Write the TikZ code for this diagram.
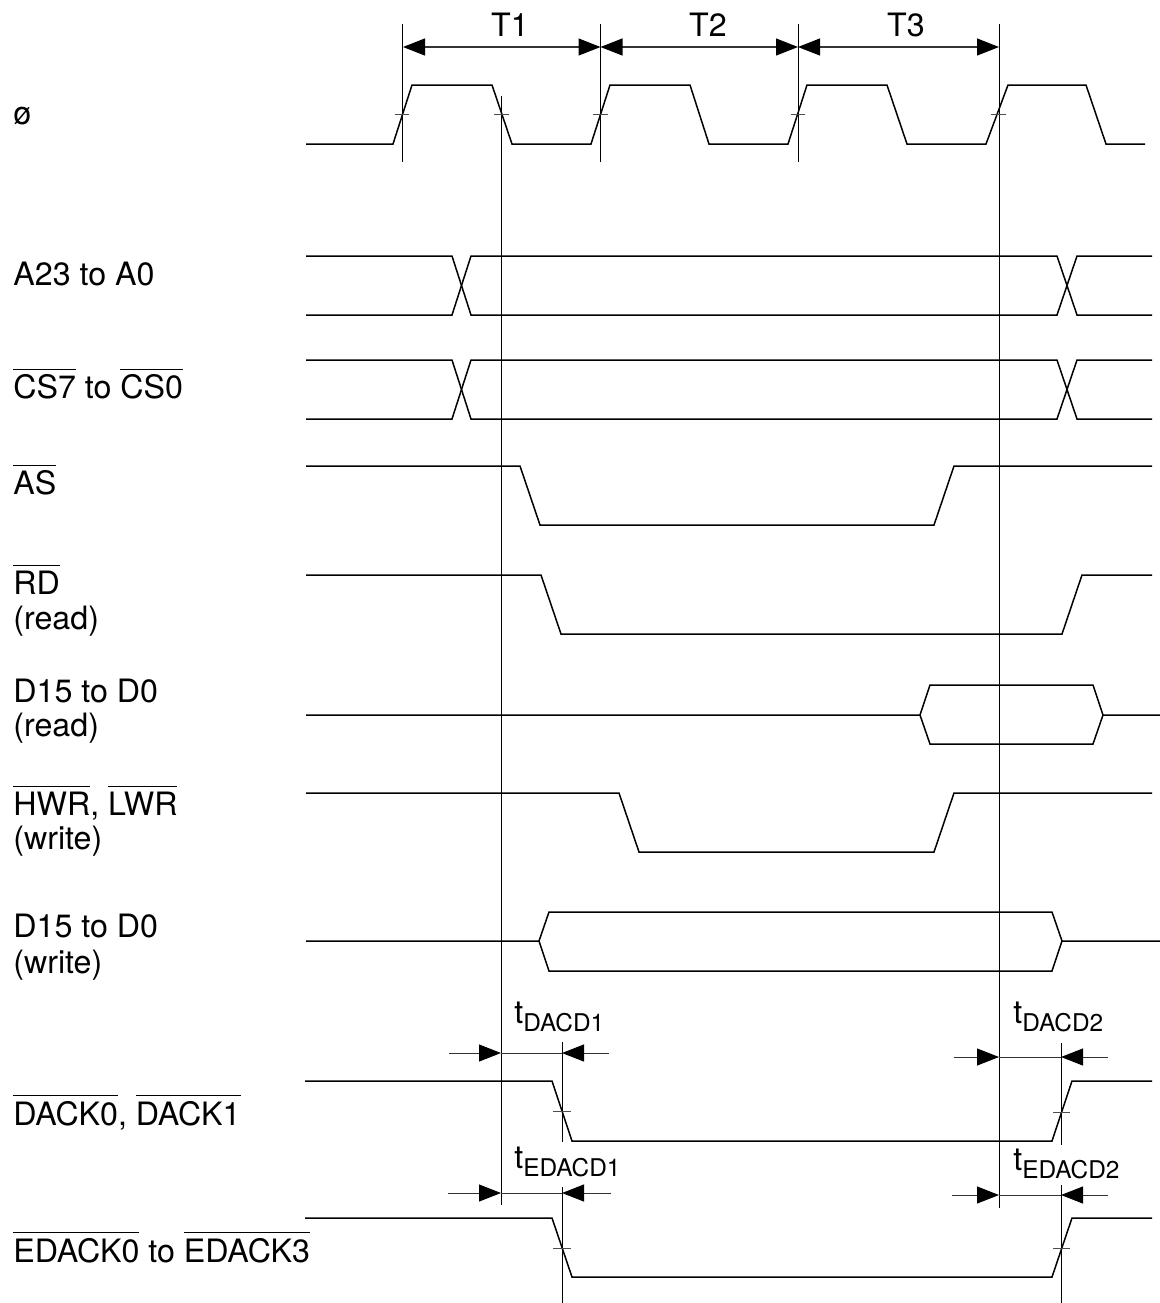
\documentclass[tikz,border=0pt]{standalone}
\usepackage{fontspec}
\setmainfont{TeX Gyre Heros}
\usetikzlibrary{arrows.meta}
\newcommand{\tsub}[1]{t\raisebox{-4pt}{\fontsize{12.2}{12}\selectfont #1}}
\newcommand{\barsig}[1]{\leavevmode\vbox{\hrule height 0.5pt \kern 2.4pt \hbox{#1}}}
\begin{document}
\begin{tikzpicture}[x=0.5pt,y=-0.5pt]
\tikzstyle{every node}=[font=\fontsize{16.1}{18}\selectfont,inner sep=0pt]
\tikzstyle{signame}=[anchor=base west,align=left]
\tikzstyle{delay}=[anchor=base west]
\tikzstyle{period}=[anchor=base]
\tikzstyle{wave}=[line width=0.75pt,line join=miter]
\tikzstyle{cursor}=[line width=0.5pt]
\tikzstyle{tick}=[line width=0.4pt,black!70]
\tikzstyle{dimline}=[line width=0.5pt,black!80]
\tikzstyle{dimtip}=[line width=0.6pt,black!80,{Triangle[length=11pt,width=8.5pt,black]}-{Triangle[length=11pt,width=8.5pt,black]}]
\tikzstyle{dimin}=[line width=0.5pt,black!80,-{Triangle[length=11pt,width=8.5pt,black]}]
\useasboundingbox (0,0) rectangle (1160,1303);
% signal names
\node[signame] (phi) at (13,124) {ø};
\node[signame] (addr) at (13,285.5) {A23 to A0};
\node[signame] (cs) at (13,398.5) {\barsig{CS7} to \barsig{CS0}};
\node[signame] (as) at (13,494.5) {\barsig{AS}};
\node[signame] (rd) at (13,594.5) {\barsig{RD}};
\node[signame] (rdnote) at (13,629) {(read)};
\node[signame] (drd) at (13,702) {D15 to D0};
\node[signame] (drdnote) at (13,736.5) {(read)};
\node[signame] (wr) at (13,815) {\barsig{HWR}, \barsig{LWR}};
\node[signame] (wrnote) at (13,849) {(write)};
\node[signame] (dwr) at (13,937.5) {D15 to D0};
\node[signame] (dwrnote) at (13,973) {(write)};
\node[signame] (dack) at (13,1125) {\barsig{DACK0}, \barsig{DACK1}};
\node[signame] (edack) at (13,1262) {\barsig{EDACK0} to \barsig{EDACK3}};
% waveforms
\draw[wave] (306,144) -- (393,144) -- (412,85) -- (492,85) -- (512,144) -- (591,144) -- (610,85) -- (690,85) -- (709,144) -- (788,144) -- (807,85) -- (887,85) -- (907,144) -- (986,144) -- (1008,85) -- (1086,85) -- (1106,144) -- (1145,144);
\draw[wave] (306,256) -- (452,256) -- (471,315) -- (1057,315) -- (1077,256) -- (1152,256);
\draw[wave] (306,315) -- (452,315) -- (471,256) -- (1057,256) -- (1077,315) -- (1152,315);
\draw[wave] (306,360) -- (452,360) -- (471,419) -- (1057,419) -- (1077,360) -- (1152,360);
\draw[wave] (306,419) -- (452,419) -- (471,360) -- (1057,360) -- (1077,419) -- (1152,419);
\draw[wave] (306,466) -- (520,466) -- (540,525) -- (934,525) -- (954,466) -- (1152,466);
\draw[wave] (306,575) -- (541,575) -- (561,634) -- (1062,634) -- (1082,575) -- (1152,575);
\draw[wave] (306,715) -- (920,715) -- (930,685) -- (1093,685) -- (1103,715) -- (1160,715);
\draw[wave] (920,715) -- (930,744) -- (1093,744) -- (1103,715);
\draw[wave] (306,793) -- (619,793) -- (639,852) -- (934,852) -- (954,793) -- (1152,793);
\draw[wave] (306,941) -- (539,941) -- (549,912) -- (1052,912) -- (1062,941) -- (1160,941);
\draw[wave] (539,941) -- (549,971) -- (1052,971) -- (1062,941);
\draw[wave] (305,1081) -- (552,1081) -- (572,1141) -- (1052,1141) -- (1072,1081) -- (1152,1081);
\draw[wave] (305,1218) -- (552,1218) -- (572,1277) -- (1052,1277) -- (1072,1218) -- (1152,1218);
% vertical cursors
\draw[cursor] (402,24) -- (402,162);
\draw[cursor] (600.5,24) -- (600.5,162);
\draw[cursor] (798,24) -- (798,162);
\draw[cursor] (999,24) -- (999,1208);
\draw[cursor] (501,96) -- (501,1205);
\draw[cursor] (562,1042) -- (562,1142);
\draw[cursor] (1061,1043) -- (1061,1145);
\draw[cursor] (562,1187) -- (562,1303);
\draw[cursor] (1061,1185) -- (1061,1303);
% crossing ticks
\draw[tick] (395,114) -- (409,114);
\draw[tick] (494,114) -- (509,114);
\draw[tick] (593,114) -- (608,114);
\draw[tick] (791,114) -- (805,114);
\draw[tick] (991,114) -- (1006,114);
\draw[tick] (553,1111) -- (571,1111);
\draw[tick] (1053,1112) -- (1070,1112);
\draw[tick] (553,1248) -- (571,1248);
\draw[tick] (1053,1248) -- (1070,1248);
% periods
\coordinate (ta) at (403,47);
\coordinate (tb) at (600.5,47);
\coordinate (tc) at (798,47);
\coordinate (td) at (999,47);
\draw[dimtip] (ta) -- (tb);
\draw[dimtip] (tb) -- (tc);
\draw[dimtip] (tc) -- (td);
\node[period] (t1) at (510,36) {T1};
\node[period] (t2) at (708,36) {T2};
\node[period] (t3) at (906,36) {T3};
% delays
\coordinate (daa) at (449,1053);
\coordinate (dab) at (501,1053);
\coordinate (dac) at (562,1053);
\coordinate (dad) at (609,1053);
\draw[dimin] (daa) -- (dab);
\draw[dimline] (dab) -- (dac);
\draw[dimin] (dad) -- (dac);
\coordinate (dba) at (954,1057);
\coordinate (dbb) at (999,1057);
\coordinate (dbc) at (1061,1057);
\coordinate (dbd) at (1108,1057);
\draw[dimin] (dba) -- (dbb);
\draw[dimline] (dbb) -- (dbc);
\draw[dimin] (dbd) -- (dbc);
\coordinate (eaa) at (448,1193);
\coordinate (eab) at (501,1193);
\coordinate (eac) at (562,1193);
\coordinate (ead) at (611,1193);
\draw[dimin] (eaa) -- (eab);
\draw[dimline] (eab) -- (eac);
\draw[dimin] (ead) -- (eac);
\coordinate (eba) at (952,1195);
\coordinate (ebb) at (999,1195);
\coordinate (ebc) at (1061,1195);
\coordinate (ebd) at (1108,1195);
\draw[dimin] (eba) -- (ebb);
\draw[dimline] (ebb) -- (ebc);
\draw[dimin] (ebd) -- (ebc);
\node[delay] (dacd1) at (514,1023) {\tsub{DACD1}};
\node[delay] (dacd2) at (1013,1023) {\tsub{DACD2}};
\node[delay] (edacd1) at (514,1168) {\tsub{EDACD1}};
\node[delay] (edacd2) at (1013,1170) {\tsub{EDACD2}};
\end{tikzpicture}
\end{document}
